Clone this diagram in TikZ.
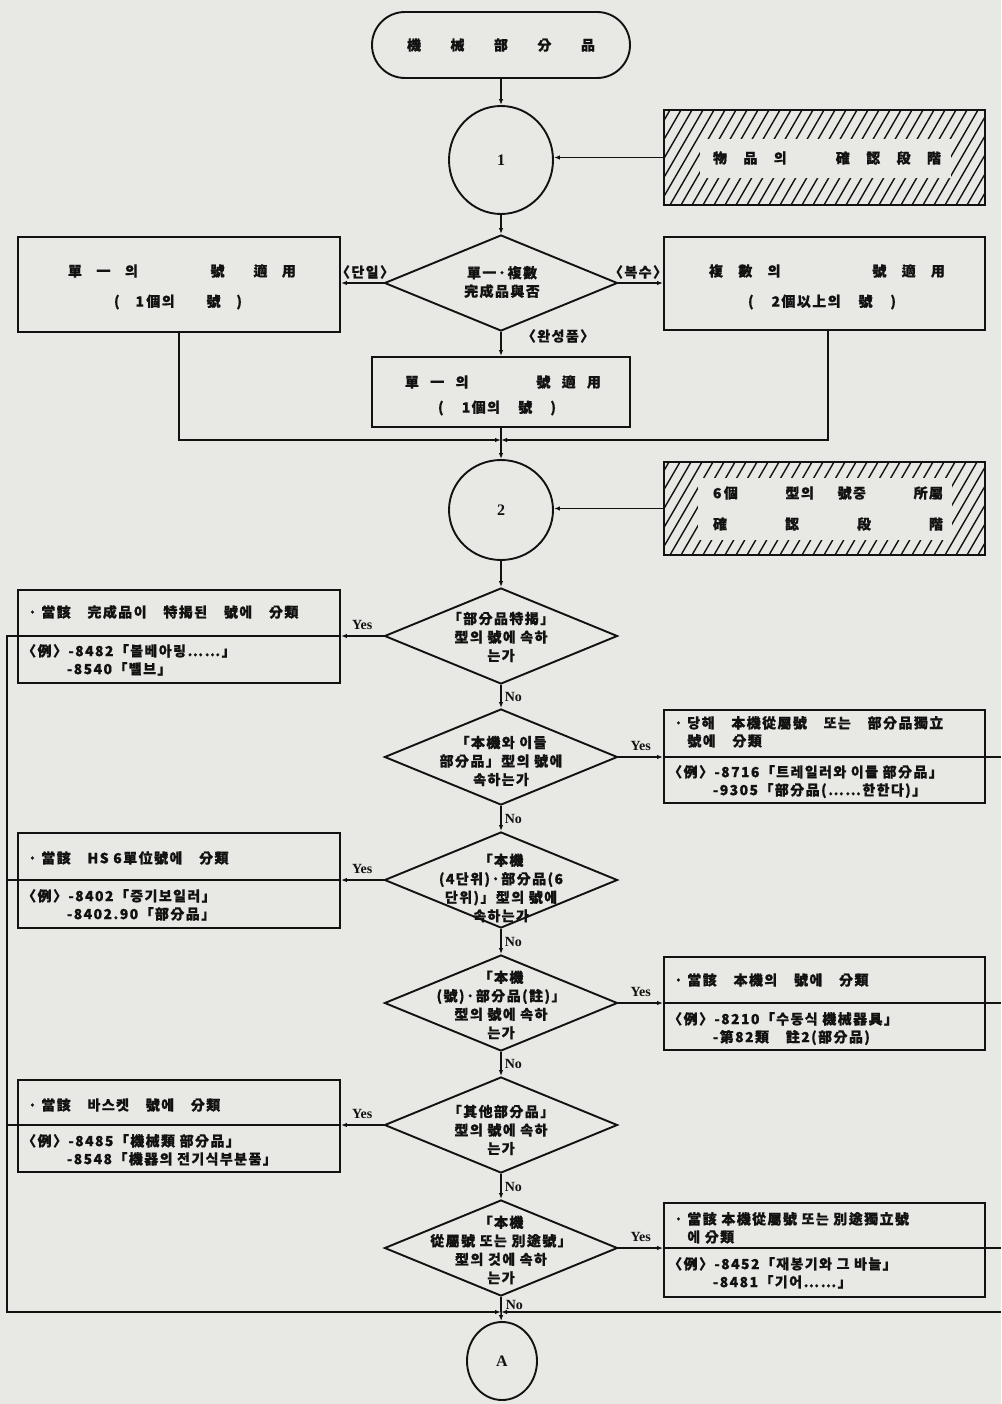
\documentclass[tikz,border=0pt]{standalone}
\usepackage{fontspec}
\setmainfont{Noto Sans CJK KR}[LetterSpace=10, BoldFeatures={FakeBold=0.6}]
\newfontfamily\lat{Liberation Serif}
\usetikzlibrary{shapes.geometric,arrows.meta,calc}
\definecolor{paper}{RGB}{232,232,229}
\definecolor{ink}{RGB}{18,18,18}
\newcommand\hf{\hfill\ignorespaces}
\tikzset{
  conn/.style={line width=1.5pt, draw=ink},
  arr/.style={conn, -{Latex[length=6pt,width=4.5pt]}},
  box/.style={draw=ink, line width=1.9pt, rectangle, inner sep=0pt},
  dia/.style={draw=ink, line width=1.9pt, diamond, minimum width=233pt, minimum height=96pt, inner sep=0pt},
  circ/.style={draw=ink, line width=1.9pt, ellipse, inner sep=0pt, font=\lat\bfseries\fontsize{16}{16}\selectfont, text=ink},
  txt/.style={font=\bfseries\fontsize{14}{18}\selectfont, inner sep=0pt, text=ink},
  blk/.style={txt, anchor=north west, align=left},
  dtxt/.style={font=\bfseries\fontsize{14}{18.5}\selectfont, align=center, inner sep=0pt, text=ink},
  yn/.style={font=\lat\bfseries\fontsize{14}{16}\selectfont, inner sep=0pt, text=ink},
  hatch/.style={line width=1.4pt, draw=ink},
}
\begin{document}
\begin{tikzpicture}[x=1pt,y=-1pt]
\useasboundingbox (0,0) rectangle (1001,1404);
\fill[paper] (0,0) rectangle (1001,1404);

% ---------- coordinates
\coordinate (j1) at (501,440);
\coordinate (j2) at (501,1312);
\coordinate (lx) at (7,0);
\coordinate (rx) at (1001,0);

% ---------- start
\node[box, rounded corners=33pt, minimum width=258pt, minimum height=66pt, txt] (start) at (501,45)
  {\makebox[188pt]{機\hf 械\hf 部\hf 分\hf 品}};

% ---------- circle 1 and hatched box 1
\node[circ, minimum width=104pt, minimum height=108pt] (c1) at (501,160) {1};
\begin{scope}
  \clip (664,110) rectangle (985,205);
  \foreach \x in {560,571,...,1000} \draw[hatch] (\x,205) -- ++(55,-95);
\end{scope}
\fill[paper] (700,139) rectangle (951,178);
\node[box, minimum width=321pt, minimum height=95pt] (h1) at (824.5,157.5) {};
\node[txt] (h1t) at (827,158) {\makebox[228pt]{物\hf 品\hf 의\hf\hf\hf 確\hf 認\hf 段\hf 階}};

% ---------- decision 1
\node[dia] (d1) at (501,283) {};
\node[dtxt] (d1t) at (502,282) {單一·複數\\完成品與否};
\node[txt] (lab1) at (365,272) {〈단일〉};
\node[txt] (lab2) at (638,272) {〈복수〉};
\node[txt] (lab3) at (558,336) {〈완성품〉};

\node[box, minimum width=322pt, minimum height=95pt] (bl1) at (179,284.5) {};
\node[txt] (bl1a) at (182,271) {\makebox[228pt]{單\hf 一\hf 의\hf\hf\hf\hf\hf 號\hf\hf 適\hf 用}};
\node[txt] (bl1b) at (178,302) {\makebox[128pt]{(\hf 1\,個의\hf\hf 號\hf )}};

\node[box, minimum width=321pt, minimum height=93pt] (br1) at (824.5,283.5) {};
\node[txt] (br1a) at (827,271) {\makebox[236pt]{複\hf 數\hf 의\hf\hf\hf\hf\hf\hf 號\hf 適\hf 用}};
\node[txt] (br1b) at (822,302) {\makebox[148pt]{(\hf 2個以上의\hf 號\hf )}};

\node[box, minimum width=258pt, minimum height=70pt] (bm1) at (501,392) {};
\node[txt] (bm1a) at (503,382) {\makebox[196pt]{單\hf 一\hf 의\hf\hf\hf\hf\hf\hf 號\hf 適\hf 用}};
\node[txt] (bm1b) at (497,408) {\makebox[118pt]{(\hf 1個의\hf 號\hf )}};

% ---------- circle 2 and hatched box 2
\node[circ, minimum width=104pt, minimum height=100pt] (c2) at (501,510) {2};
\begin{scope}
  \clip (664,462) rectangle (985,555);
  \foreach \x in {560,571,...,1000} \draw[hatch] (\x,555) -- ++(54,-93);
\end{scope}
\fill[paper] (698,478) rectangle (952,540);
\node[box, minimum width=321pt, minimum height=93pt] (h2) at (824.5,508.5) {};
\node[txt] (h2a) at (828,493) {\makebox[230pt]{6\,個\hf\hf 型의\hf 號중\hf\hf 所屬}};
\node[txt] (h2b) at (828,524) {\makebox[230pt]{確\hf 認\hf 段\hf 階}};

% ---------- decisions
\node[dia] (d2) at (501,636) {};
\node[dtxt] (d2t) at (501,637) {「部分品特揭」\\型의 號에 속하\\는가};
\node[dia] (d3) at (501,757) {};
\node[dtxt] (d3t) at (501,761) {「本機와 이들\\部分品」型의 號에\\속하는가};
\node[dia] (d4) at (501,880) {};
\node[dtxt] (d4t) at (501,888) {「本機\\(4단위)·部分品(6\\단위)」型의 號에\\속하는가};
\node[dia] (d5) at (501,1003) {};
\node[dtxt] (d5t) at (501,1005) {「本機\\(號)·部分品(註)」\\型의 號에 속하\\는가};
\node[dia] (d6) at (501,1125) {};
\node[dtxt] (d6t) at (501,1130) {「其他部分品」\\型의 號에 속하\\는가};
\node[dia] (d7) at (501,1248) {};
\node[dtxt] (d7t) at (501,1250) {「本機\\從屬號 또는 別途號」\\型의 것에 속하\\는가};

% ---------- side boxes
\node[box, minimum width=322pt, minimum height=93pt] (L2) at (179,636.5) {};
\node[txt, anchor=west] (L2a) at (28,612) {·\ 當該　完成品이　特揭된　號에　分類};
\node[blk] (L2b) at (22,644) {〈例〉-8482「볼베아링……」\\\hphantom{〈例〉}-8540「밸브」};

\node[box, minimum width=321pt, minimum height=93pt] (R3) at (824.5,756.5) {};
\node[blk] (R3a) at (674,716) {·\ 당해　本機從屬號　또는　部分品獨立\\\hphantom{·\ }號에　分類};
\node[blk] (R3b) at (668,765) {〈例〉-8716「트레일러와 이들 部分品」\\\hphantom{〈例〉}-9305「部分品(……한한다)」};

\node[box, minimum width=322pt, minimum height=95pt] (L4) at (179,880.5) {};
\node[txt, anchor=west] (L4a) at (28,858) {·\ 當該　HS 6單位號에　分類};
\node[blk] (L4b) at (22,889) {〈例〉-8402「증기보일러」\\\hphantom{〈例〉}-8402.90「部分品」};

\node[box, minimum width=321pt, minimum height=93pt] (R5) at (824.5,1003.5) {};
\node[txt, anchor=west] (R5a) at (674,980) {·\ 當該　本機의　號에　分類};
\node[blk] (R5b) at (668,1012) {〈例〉-8210「수동식 機械器具」\\\hphantom{〈例〉}-第82類　註2(部分品)};

\node[box, minimum width=322pt, minimum height=92pt] (L6) at (179,1126) {};
\node[txt, anchor=west] (L6a) at (28,1105) {·\ 當該　바스켓　號에　分類};
\node[blk] (L6b) at (22,1134) {〈例〉-8485「機械類 部分品」\\\hphantom{〈例〉}-8548「機器의 전기식부분품」};

\node[box, minimum width=321pt, minimum height=94pt] (R7) at (824.5,1250) {};
\node[blk] (R7a) at (674,1212) {·\ 當該 本機從屬號 또는 別途獨立號\\\hphantom{·\ }에 分類};
\node[blk] (R7b) at (668,1257) {〈例〉-8452「재봉기와 그 바늘」\\\hphantom{〈例〉}-8481「기어……」};

% ---------- circle A
\node[circ, minimum width=70pt, minimum height=78pt] (cA) at (502,1361) {A};

% ---------- connectors
\draw[arr] (start) -- (c1);
\draw[arr] (h1.west) -- (h1.west -| c1.east);
\draw[arr] (c1) -- (d1);
\draw[arr] (d1.west) -- (d1.west -| bl1.east);
\draw[arr] (d1.east) -- (d1.east -| br1.west);
\draw[arr] (d1) -- (bm1);
\draw[arr] (bl1.south) |- (j1);
\draw[arr] ([xshift=3.5pt]br1.south) |- (j1);
\draw[conn] (bm1) -- (j1);
\draw[arr] (j1) -- (c2);
\draw[arr] (h2.west) -- (h2.west -| c2.east);
\draw[arr] (c2) -- (d2);

\draw[arr] (d2) -- (d3) node[yn, midway, right=3pt] {No};
\draw[arr] (d3) -- (d4) node[yn, midway, right=3pt] {No};
\draw[arr] (d4) -- (d5) node[yn, midway, right=3pt] {No};
\draw[arr] (d5) -- (d6) node[yn, midway, right=3pt] {No};
\draw[arr] (d6) -- (d7) node[yn, midway, right=3pt] {No};
\draw[conn] (d7) -- (j2) node[yn, midway, right=4pt] {No};
\draw[arr] (j2) -- (cA);

\draw[arr] (d2.west) -- (d2.west -| L2.east) node[yn, midway, above=6pt] {Yes};
\draw[arr] (d2.west -| L2.east) -- (d2.west -| lx) -- (lx |- j2) -- (j2);
\draw[arr] (d4.west) -- (d4.west -| L4.east) node[yn, midway, above=6pt] {Yes};
\draw[conn] (d4.west -| L4.east) -- (d4.west -| lx);
\draw[arr] (d6.west) -- (d6.west -| L6.east) node[yn, midway, above=6pt] {Yes};
\draw[conn] (d6.west -| L6.east) -- (d6.west -| lx);

\draw[arr] (d3.east) -- (d3.east -| R3.west) node[yn, midway, above=6pt] {Yes};
\draw[conn] (d3.east -| R3.west) -- (d3.east -| rx);
\draw[arr] (d5.east) -- (d5.east -| R5.west) node[yn, midway, above=6pt] {Yes};
\draw[conn] (d5.east -| R5.west) -- (d5.east -| rx);
\draw[arr] (d7.east) -- (d7.east -| R7.west) node[yn, midway, above=6pt] {Yes};
\draw[conn] (d7.east -| R7.west) -- (d7.east -| rx);
\draw[arr] (rx |- j2) -- (j2);
\end{tikzpicture}
\end{document}
